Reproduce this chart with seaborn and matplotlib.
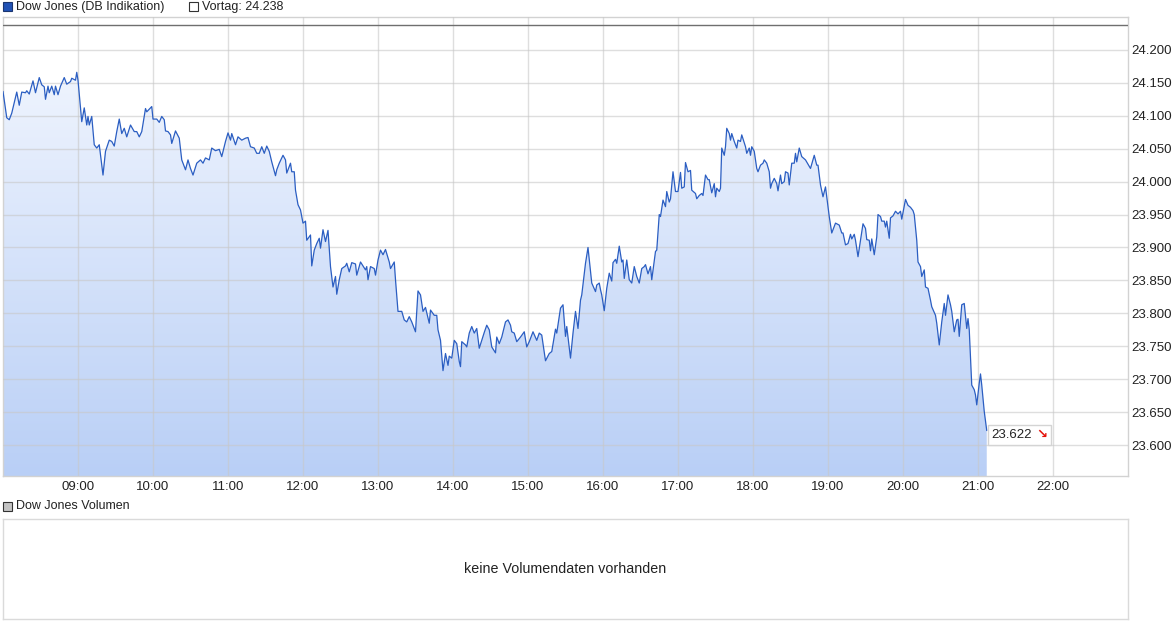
import numpy as np
import pandas as pd
import seaborn as sns
import matplotlib.pyplot as plt
from matplotlib.patches import Rectangle
from matplotlib.colors import LinearSegmentedColormap
from matplotlib.offsetbox import TextArea, HPacker, AnnotationBbox

# minutes after 08:00 and index level (points)
minutes = [
    0, 3, 5, 7, 11, 13, 15, 18, 19, 21, 24, 26, 29, 31, 33, 34, 36, 37, 39, 41,
    42, 44, 46, 49, 51, 54, 55, 58, 59, 60, 63, 65, 67, 68, 69, 71, 73, 75, 77, 80,
    82, 85, 87, 89, 91, 93, 95, 97, 99, 102, 105, 107, 109, 111, 114, 115, 119, 120, 123, 125,
    127, 129, 130, 132, 134, 135, 138, 141, 143, 146, 148, 150, 152, 155, 158, 160, 162, 165, 167, 170,
    173, 175, 178, 180, 182, 183, 186, 188, 191, 194, 196, 198, 201, 203, 205, 207, 209, 211, 213, 215,
    218, 219,
    221, 224, 226, 227, 230, 231, 233, 234, 236, 238, 240, 242, 243, 246, 247, 249, 251, 253, 254, 256,
    258, 260, 262, 264, 266, 267, 269, 271, 274, 275, 277, 279, 282, 283, 286, 288, 290, 291, 292, 294,
    297, 298, 300, 302, 304, 306, 309, 310, 313, 314, 316, 319, 321, 323, 325, 327, 330, 332, 334, 336,
    338, 341, 342, 345, 347, 348, 350, 352, 354, 356, 357, 359, 361, 363, 365, 366, 367, 370, 371, 373,
    375, 377, 379, 381, 383, 385, 387, 389, 391, 394, 395, 397, 399, 402, 404, 406, 407, 409, 411, 414,
    417, 419, 421, 424, 427, 429, 431, 434, 437, 439, 442, 443,
    446, 448, 450, 451, 454, 456, 458, 460, 462, 463, 466, 468, 470, 471, 474, 475, 477, 478, 479, 481,
    483, 485, 487, 488, 490, 491, 493, 495, 496, 497, 499, 501, 503, 505, 507, 509, 511, 513, 514, 516,
    518, 519, 522, 523, 525, 526, 528, 530, 531, 533, 534, 536, 538, 540, 542, 543, 545, 546, 548, 550,
    551, 554, 555, 557, 559, 560, 562, 564, 565, 567, 569, 570, 571, 573, 574, 575, 577, 578, 579, 581,
    582, 583, 585, 587, 588, 590, 591, 594, 595, 597, 598, 599, 601, 603, 604, 606, 608, 609, 611, 613,
    614, 615, 617, 619, 620, 622, 623, 625, 626, 628, 629, 631, 633, 634, 635,
    637, 639, 642, 646, 649, 651, 652, 654, 656, 658, 661, 663, 666, 669, 671, 672, 674, 676, 678, 679,
    681, 682, 684, 686, 688, 690, 691, 693, 694, 695, 697, 699, 700, 702, 703, 705, 706, 707, 709, 710,
    712, 714, 716, 718, 719, 722, 724, 726, 728, 729, 731, 732, 734, 735, 737, 738, 740, 742, 743, 746,
    747, 749, 751, 753, 754, 756, 758, 759, 761, 763, 764, 765, 767, 769, 771, 772, 773, 775, 777, 778,
    779, 781, 782, 783, 785, 787,
]
kurs = [
    24137, 24097, 24094, 24104, 24136, 24116, 24136, 24135, 24138, 24133, 24153, 24135, 24158, 24147, 24144, 24125, 24145, 24135, 24145, 24132,
    24145, 24132, 24145, 24158, 24148, 24152, 24157, 24154, 24166, 24154, 24091, 24112, 24086, 24099, 24086, 24099, 24056, 24051, 24056, 24010,
    24046, 24063, 24061, 24054, 24076, 24095, 24073, 24081, 24068, 24086, 24076, 24076, 24068, 24076, 24111, 24106, 24114, 24095, 24095, 24090,
    24099, 24094, 24077, 24076, 24071, 24058, 24077, 24066, 24033, 24018, 24033, 24020, 24010, 24028, 24033, 24028, 24036, 24033, 24051, 24047,
    24049, 24038, 24061, 24074, 24063, 24073, 24056, 24068, 24063, 24066, 24067, 24053, 24051, 24043, 24043, 24053, 24043, 24054, 24046, 24030,
    24009, 24018,
    24028, 24040, 24033, 24013, 24028, 24015, 24015, 23987, 23965, 23957, 23937, 23940, 23911, 23919, 23872, 23896, 23906, 23914, 23899, 23927,
    23909, 23926, 23871, 23840, 23856, 23829, 23851, 23868, 23872, 23876, 23863, 23877, 23875, 23858, 23878, 23872, 23866, 23871, 23851, 23871,
    23868, 23858, 23881, 23896, 23889, 23897, 23878, 23868, 23878, 23851, 23803, 23803, 23790, 23787, 23795, 23787, 23772, 23834, 23828, 23803,
    23809, 23785, 23805, 23797, 23797, 23775, 23759, 23713, 23739, 23721, 23735, 23732, 23759, 23754, 23727, 23719, 23757, 23752, 23749, 23770,
    23780, 23770, 23777, 23747, 23759, 23771, 23782, 23775, 23749, 23740, 23764, 23754, 23764, 23787, 23790, 23782, 23772, 23770, 23757, 23764,
    23772, 23749, 23757, 23772, 23759, 23770, 23767, 23728, 23739, 23742, 23776, 23770,
    23808, 23813, 23765, 23780, 23732, 23770, 23803, 23777, 23820, 23828, 23876, 23900, 23863, 23846, 23833, 23843, 23846, 23836, 23828, 23804,
    23838, 23861, 23849, 23877, 23882, 23876, 23902, 23878, 23881, 23853, 23881, 23851, 23846, 23871, 23856, 23846, 23868, 23871, 23874, 23860,
    23871, 23851, 23894, 23896, 23950, 23947, 23972, 23962, 23985, 23969, 23974, 24015, 23985, 23985, 24014, 23990, 23992, 24029, 24015, 24017,
    23987, 23982, 23974, 23979, 23982, 23979, 24010, 24003, 24003, 23983, 23997, 23977, 23990, 23985, 23990, 24051, 24040, 24053, 24081, 24073,
    24063, 24073, 24061, 24051, 24063, 24061, 24071, 24053, 24043, 24051, 24040, 24053, 24046, 24020, 24015, 24025, 24028, 24033, 24028, 24015,
    23990, 23997, 24005, 23997, 23986, 24010, 23997, 24000, 24015, 24013, 23995, 24028, 24028, 24043, 24030,
    24051, 24038, 24033, 24020, 24040, 24025, 24025, 23995, 23977, 23992, 23947, 23922, 23937, 23934, 23922, 23922, 23904, 23906, 23920, 23913,
    23920, 23911, 23886, 23911, 23936, 23929, 23912, 23911, 23895, 23913, 23889, 23916, 23950, 23947, 23940, 23940, 23931, 23940, 23914, 23945,
    23948, 23955, 23951, 23955, 23943, 23973, 23964, 23961, 23956, 23950, 23911, 23878, 23871, 23856, 23866, 23840, 23838, 23820, 23810, 23797,
    23785, 23752, 23787, 23815, 23797, 23828, 23813, 23803, 23772, 23790, 23791, 23765, 23813, 23815, 23777, 23792, 23775, 23691, 23684, 23676,
    23661, 23694, 23708, 23691, 23651, 23622,
]
vortag = 24238
hour_ticks = list(range(9, 23))
price_ticks = list(range(23600, 24201, 50))


def de(v):
    return f"{v:,.0f}".replace(",", ".")


df = pd.DataFrame({"stunde": 8 + np.array(minutes) / 60, "kurs": kurs})

sns.set_style("white")
plt.rcParams['font.family'] = ['Liberation Sans', 'DejaVu Sans']

W, H = 1175, 630
fig = plt.figure(figsize=(W / 100, H / 100), dpi=100)
ax = fig.add_axes([3 / W, 154 / H, 1125 / W, 459 / H])
ymin, ymax = 23553, 24250

# gradient area under the line
poly = ax.fill_between(df.stunde, df.kurs, ymin, facecolor='none', edgecolor='none')
cmap = LinearSegmentedColormap.from_list('blau', ['#b9cff6', '#f6f9ff'])
grad = np.linspace(0, 1, 256).reshape(-1, 1)
im = ax.imshow(grad, extent=[df.stunde.min(), df.stunde.max(), ymin, ymax],
               origin='lower', aspect='auto', cmap=cmap, zorder=1)
im.set_clip_path(poly.get_paths()[0], transform=ax.transData)

sns.lineplot(data=df, x='stunde', y='kurs', color='#2b5ec2', lw=0.9, ax=ax, zorder=3)
ax.axhline(vortag, color='#6f6f6f', lw=1, zorder=2.8)

ax.set_xlim(8, 23)
ax.set_ylim(ymin, ymax)
ax.set_xticks(hour_ticks, [f"{h:02d}:00" for h in hour_ticks])
ax.set_yticks(price_ticks, [de(p) for p in price_ticks])
ax.yaxis.tick_right()
ax.tick_params(axis='both', length=0, labelsize=9.5, colors='#222222')
ax.tick_params(axis='x', pad=3.5)
ax.tick_params(axis='y', pad=2.5)
ax.set_xlabel('')
ax.set_ylabel('')
ax.grid(True, color='#c8c8c8', lw=1, alpha=0.6)
ax.set_axisbelow(False)
for s in ax.spines.values():
    s.set_color('#d2d2d2')
    s.set_linewidth(1)

# last price label
last = df.iloc[-1]
box = HPacker(children=[
    TextArea(de(last.kurs), textprops=dict(color='#222222', size=9.5)),
    TextArea('\u2198', textprops=dict(color='#e5120a', size=9.5, family='DejaVu Sans', weight='bold')),
], align='baseline', pad=0, sep=3)
ab = AnnotationBbox(box, (last.stunde, last.kurs), xybox=(3.5, -3.0), xycoords='data',
                    boxcoords='offset points', box_alignment=(0, 0.5), frameon=True, pad=0.25,
                    bboxprops=dict(ec='#d4d4d4', fc='white', lw=1))
ax.add_artist(ab)

# legend line at the top
fig.add_artist(Rectangle((3 / W, 1 - 11 / H), 9 / W, 9 / H, transform=fig.transFigure,
                         fc='#2152b5', ec='#1b3670', lw=0.8))
fig.text(16 / W, 1 - 7 / H, "Dow Jones (DB Indikation)", ha='left', va='center', fontsize=9, color='#222222')
fig.add_artist(Rectangle((189 / W, 1 - 11 / H), 9 / W, 9 / H, transform=fig.transFigure,
                         fc='white', ec='#333333', lw=0.8))
fig.text(202 / W, 1 - 7 / H, f"Vortag: {de(vortag)}", ha='left', va='center', fontsize=9, color='#222222')

# volume panel
fig.add_artist(Rectangle((3 / W, 1 - 511 / H), 9 / W, 9 / H, transform=fig.transFigure,
                         fc='#c4c4c4', ec='#333333', lw=0.8))
fig.text(16 / W, 1 - 506 / H, "Dow Jones Volumen", ha='left', va='center', fontsize=9, color='#222222')
ax2 = fig.add_axes([3 / W, 11 / H, 1125 / W, 100 / H])
ax2.set_xticks([])
ax2.set_yticks([])
for s in ax2.spines.values():
    s.set_color('#dadada')
    s.set_linewidth(1)
ax2.text(0.5, 0.5, "keine Volumendaten vorhanden", transform=ax2.transAxes,
         ha='center', va='center', fontsize=10.3, color='#222222')

fig.savefig('out.png', dpi=100)
